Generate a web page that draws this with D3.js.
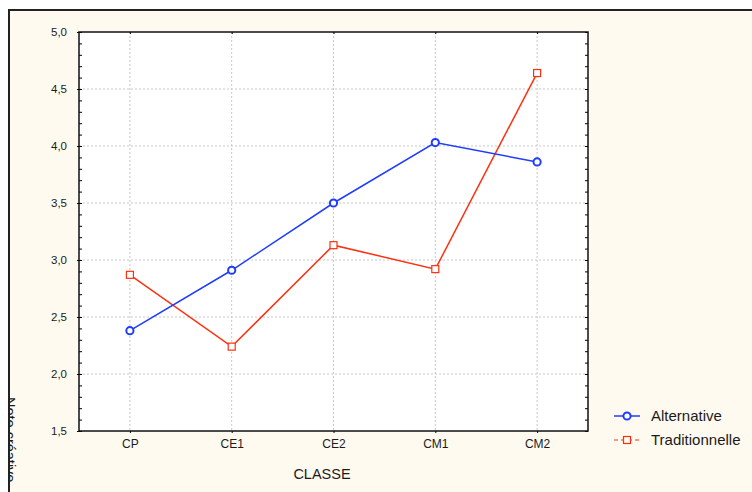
<!DOCTYPE html>
<html><head><meta charset="utf-8">
<script src="https://cdn.jsdelivr.net/npm/d3@7"></script>
<style>body{margin:0;background:#fff}svg{display:block}text{font-family:Arial,"Liberation Sans",sans-serif;fill:#1a1a1a}</style>
</head><body>
<svg id="c" width="752" height="492"></svg>
<script>
const categories = ["CP","CE1","CE2","CM1","CM2"];
const alternative = [2.38, 2.91, 3.50, 4.03, 3.86];
const traditionnelle = [2.87, 2.24, 3.13, 2.92, 4.64];
const yTicks = [1.5, 2.0, 2.5, 3.0, 3.5, 4.0, 4.5, 5.0];
const seriesNames = ["Alternative", "Traditionnelle"];

const svg = d3.select("#c");
const W = 752, H = 492;
const m = {l:79, r:588, t:32, b:431};
const blue = "#1f3cff", red = "#ff3010";

svg.append("defs").append("clipPath").attr("id","pclip")
  .append("rect").attr("x",10).attr("y",11).attr("width",W).attr("height",H);
svg.append("rect").attr("x",9).attr("y",10).attr("width",W+10).attr("height",H+10)
  .attr("fill","#fffaf0").attr("stroke","#222").attr("stroke-width",2);

const x = d3.scalePoint().domain(categories).range([m.l, m.r]).padding(0.5);
const y = d3.scaleLinear().domain([1.5, 5.0]).range([m.b, m.t]);
const fmt = v => d3.format(".1f")(v).replace(".", ",");

svg.append("rect").attr("x",m.l).attr("y",m.t).attr("width",m.r-m.l).attr("height",m.b-m.t).attr("fill","#fff");

// grid
const g = svg.append("g");
g.selectAll(".hg").data(yTicks.slice(1,-1)).join("line")
  .attr("x1",m.l).attr("x2",m.r).attr("y1",d=>y(d)).attr("y2",d=>y(d))
  .attr("stroke","#c8c8c8").attr("stroke-dasharray","2,2");
g.selectAll(".vg").data(categories).join("line")
  .attr("x1",d=>x(d)).attr("x2",d=>x(d)).attr("y1",m.t).attr("y2",m.b)
  .attr("stroke","#c8c8c8").attr("stroke-dasharray","2,2");

// minor ticks
const minor = d3.range(15, 51).map(v=>v/10);
const yl = svg.append("g").attr("transform",`translate(${m.l},0)`)
  .call(d3.axisLeft(y).tickValues(yTicks).tickFormat(fmt).tickSize(2).tickPadding(10));
yl.select(".domain").remove();
yl.selectAll("text").style("font-size","11.5px").attr("fill","#222");
svg.append("g").attr("transform",`translate(${m.l},0)`)
  .call(d3.axisRight(y).tickValues(minor).tickFormat("").tickSize(3)).select(".domain").remove();
svg.append("g").attr("transform",`translate(${m.r},0)`)
  .call(d3.axisLeft(y).tickValues(minor).tickFormat("").tickSize(3)).select(".domain").remove();
const xa = svg.append("g").attr("transform",`translate(0,${m.b})`)
  .call(d3.axisBottom(x).tickSize(2).tickPadding(6));
xa.select(".domain").remove();
xa.selectAll("text").style("font-size","12px").attr("fill","#222");
svg.append("g").attr("transform",`translate(0,${m.t})`)
  .call(d3.axisBottom(x).tickSize(2).tickFormat("")).select(".domain").remove();

svg.append("rect").attr("x",m.l).attr("y",m.t).attr("width",m.r-m.l).attr("height",m.b-m.t)
  .attr("fill","none").attr("stroke","#111").attr("stroke-width",1.5);

const line = d3.line().x((d,i)=>x(categories[i])).y(d=>y(d));
svg.append("path").datum(traditionnelle).attr("d",line).attr("fill","none").attr("stroke",red).attr("stroke-width",1.5);
svg.append("path").datum(alternative).attr("d",line).attr("fill","none").attr("stroke",blue).attr("stroke-width",1.5);
svg.selectAll(".sq").data(traditionnelle).join("rect")
  .attr("x",(d,i)=>x(categories[i])-3.5).attr("y",d=>y(d)-3.5).attr("width",7).attr("height",7)
  .attr("fill","#fff").attr("stroke",red).attr("stroke-width",1.2);
svg.selectAll(".ci").data(alternative).join("circle")
  .attr("cx",(d,i)=>x(categories[i])).attr("cy",d=>y(d)).attr("r",3.6)
  .attr("fill","#fff").attr("stroke",blue).attr("stroke-width",2);

// titles
svg.append("text").attr("x",322).attr("y",479).attr("text-anchor","middle")
  .style("font-size","14.5px").text("CLASSE");
svg.append("g").attr("clip-path","url(#pclip)")
  .append("text").attr("transform","translate(5,397) rotate(90)")
  .style("font-size","14.5px").text("Note créative");

// legend
const lg = svg.append("g");
lg.append("line").attr("x1",614).attr("x2",640).attr("y1",416).attr("y2",416).attr("stroke",blue).attr("stroke-width",1.5);
lg.append("circle").attr("cx",627).attr("cy",416).attr("r",3.6).attr("fill","#fff").attr("stroke",blue).attr("stroke-width",2);
lg.append("line").attr("x1",614).attr("x2",640).attr("y1",440).attr("y2",440).attr("stroke",red).attr("stroke-width",1.2).attr("stroke-dasharray","4,3");
lg.append("rect").attr("x",623.5).attr("y",436.5).attr("width",7).attr("height",7).attr("fill","#fffaf0").attr("stroke",red).attr("stroke-width",1.2);
lg.selectAll(".lt").data(seriesNames).join("text")
  .attr("x",651).attr("y",(d,i)=>416+i*24).attr("dy","0.36em")
  .style("font-size","15px").text(d=>d);
</script>
</body></html>
